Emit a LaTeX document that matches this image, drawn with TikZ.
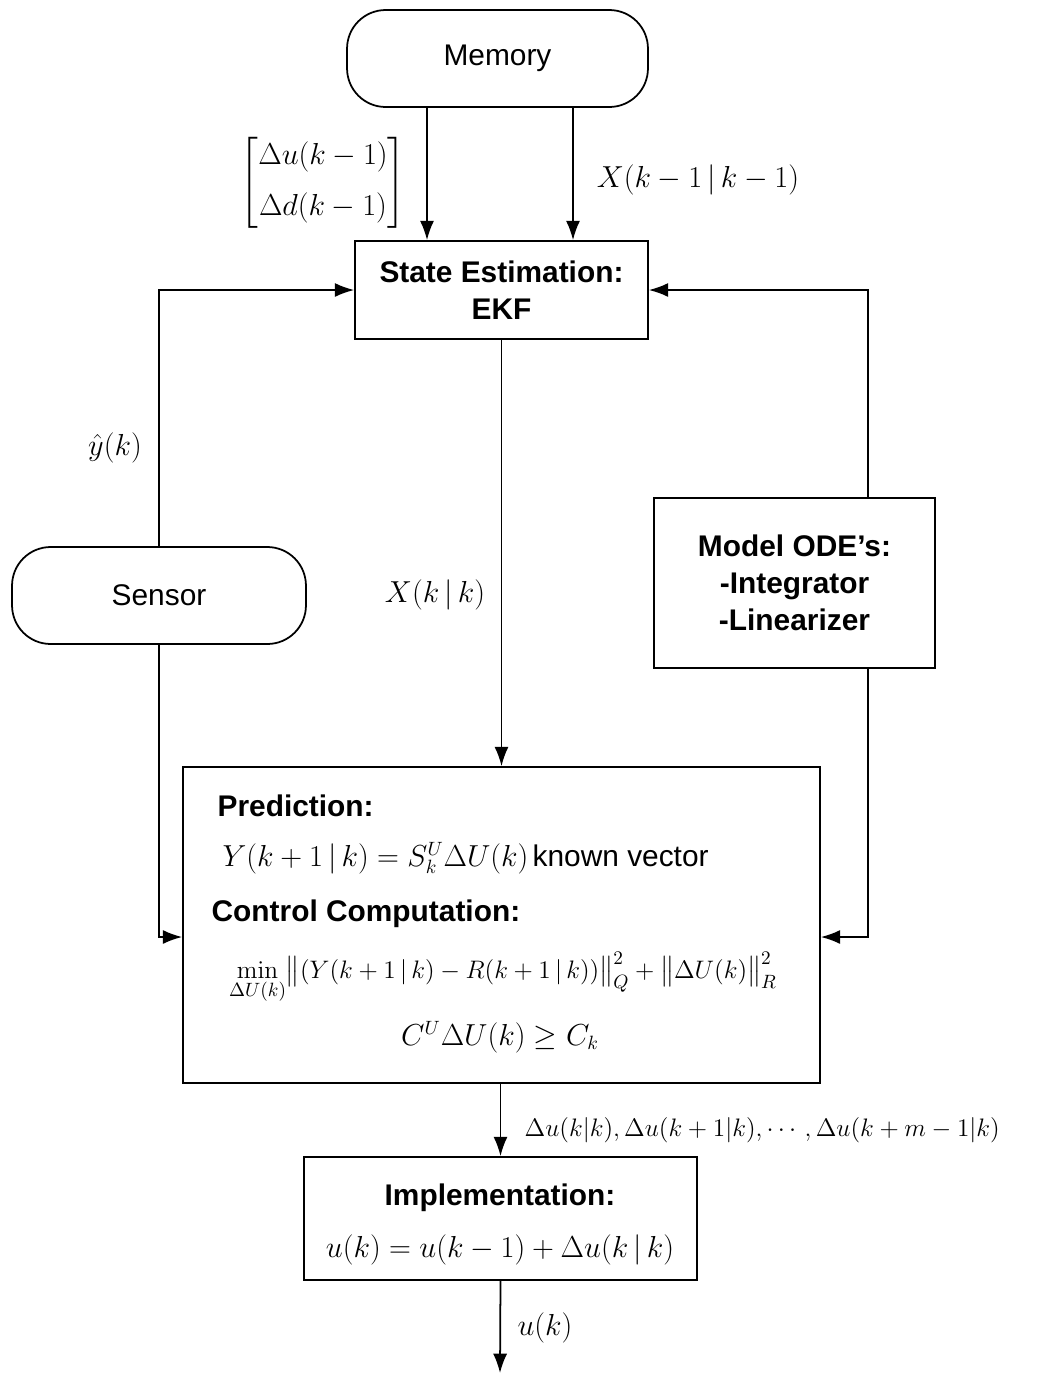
\documentclass[tikz,border=0pt]{standalone}
\usepackage{amsmath}
\usepackage[no-math]{fontspec}
\setmainfont{Liberation Sans}
\usetikzlibrary{arrows.meta,positioning}

\tikzset{
  txt/.style={font=\fontsize{17pt}{21pt}\selectfont},
  btxt/.style={font=\fontsize{17pt}{21pt}\selectfont\bfseries,inner sep=1pt},
  mth/.style={font=\fontsize{16pt}{20pt}\selectfont,inner sep=1pt},
  term/.style={draw,rounded corners=22pt,txt,inner sep=0pt},
  block/.style={draw,btxt,align=center,inner sep=0pt}
}

\begin{document}
\begin{tikzpicture}[->,>={Latex[length=11pt,width=8pt]},x=0.02cm,y=-0.02cm,line width=1pt]
  \useasboundingbox (0,0) rectangle (1060,1373);

  \node[term,minimum width=6.02cm,minimum height=1.94cm] (mem) at (497.5,58.5) {Memory};
  \node[block,minimum width=5.86cm,minimum height=1.96cm] (est) at (501.5,290) {State Estimation:\\EKF};
  \node[term,minimum width=5.88cm,minimum height=1.94cm] (sen) at (159,595.5) {Sensor};
  \node[block,minimum width=5.62cm,minimum height=3.4cm] (mod) at (794.5,583) {Model ODE's:\\-Integrator\\-Linearizer};
  \node[draw,minimum width=12.74cm,minimum height=6.32cm] (pred) at (501.5,925) {};
  \node[draw,minimum width=7.86cm,minimum height=2.46cm] (impl) at (500.5,1218.5) {};

  % text inside the prediction box
  \node[btxt,anchor=west] (predt) at (215,806) {Prediction:};
  \node[mth,anchor=west] (prede) at (220,858) {$Y(k+1\,|\,k)=S_k^U\Delta U(k)$\hspace{0.15em}\fontsize{17pt}{21pt}\selectfont known vector};
  \node[btxt,anchor=west] (ctrlt) at (209,914) {Control Computation:};
  \node[mth,font=\fontsize{15.2pt}{18pt}\selectfont] (ctrle) at (503,978) {$\min\limits_{\Delta U(k)}\bigl\|(Y(k+1\,|\,k)-R(k+1\,|\,k))\bigr\|_Q^2+\bigl\|\Delta U(k)\bigr\|_R^2$};
  \node[mth] (cons) at (500,1037) {$C^U\Delta U(k)\ge C_k$};

  % text inside the implementation box
  \node[btxt] (implt) at (500,1198) {Implementation:};
  \node[mth] (imple) at (500,1250) {$u(k)=u(k-1)+\Delta u(k\,|\,k)$};

  \coordinate (c1) at (427,0);
  \coordinate (c2) at (573,0);
  \coordinate (c3) at (868,0);
  \coordinate (c4) at (0,937);
  \coordinate (out) at (500,1373);

  \draw (c1 |- mem.south) -- (c1 |- est.north);
  \draw (c2 |- mem.south) -- (c2 |- est.north);
  \draw (sen.north) |- (est.west);
  \draw (c3 |- mod.north) |- (est.east);
  \draw (est.south) -- (est.south |- pred.north);
  \draw (sen.south) |- (c4 -| pred.west);
  \draw (c3 |- mod.south) |- (c4 -| pred.east);
  \draw (impl.north |- pred.south) -- (impl.north);
  \draw (impl.south) -- (out);

  % signal labels
  \node[mth] (lmat) at (323,183) {$\begin{bmatrix}\Delta u(k-1)\\[9pt] \Delta d(k-1)\end{bmatrix}$};
  \node[mth] (lx1) at (698,180) {$X(k-1\,|\,k-1)$};
  \node[mth] (ly) at (115,448) {$\hat{y}(k)$};
  \node[mth] (lx) at (435,595) {$X(k\,|\,k)$};
  \node[mth,font=\fontsize{15.3pt}{19pt}\selectfont,anchor=west] (ldu) at (522,1130) {$\Delta u(k|k),\Delta u(k+1|k),\cdots,\Delta u(k+m-1|k)$};
  \node[mth] (lu) at (545,1328) {$u(k)$};
\end{tikzpicture}
\end{document}
